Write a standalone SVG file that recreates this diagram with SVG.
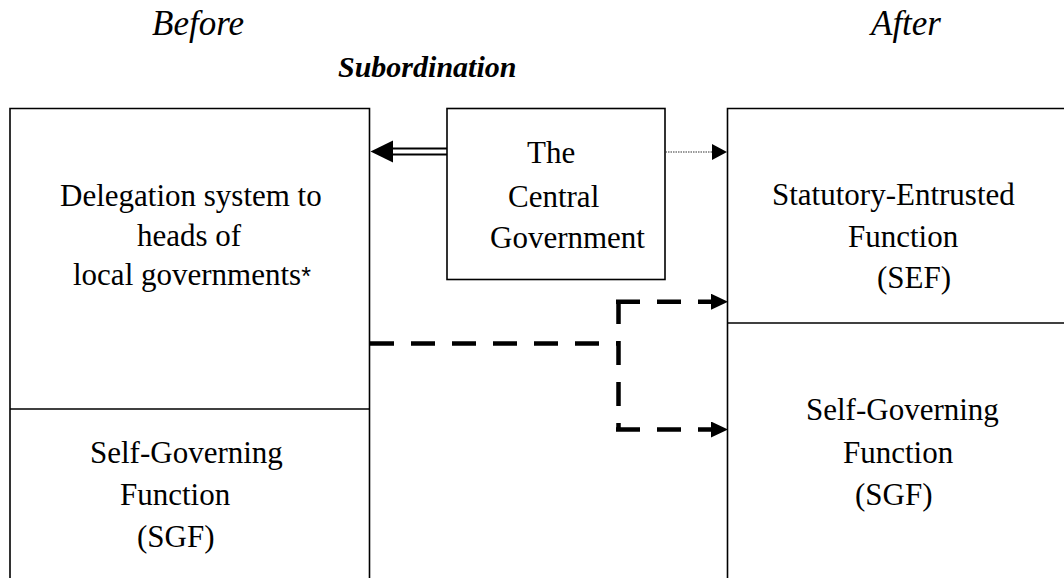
<svg xmlns="http://www.w3.org/2000/svg" width="1064" height="578" viewBox="0 0 1064 578">
<style>
.t{font-family:"Liberation Serif","Times New Roman",serif;font-size:31px;fill:#000}
.h{font-family:"Liberation Serif","Times New Roman",serif;font-size:35px;font-style:italic;fill:#000}
.s{font-family:"Liberation Serif","Times New Roman",serif;font-size:30px;font-style:italic;font-weight:bold;fill:#000}
.box{fill:none;stroke:#000;stroke-width:1.6}
.dash{fill:none;stroke:#000;stroke-width:4.5;stroke-dasharray:24 17}
</style>
<defs>
<marker id="ah" viewBox="0 0 17 16" refX="0" refY="8" markerWidth="17" markerHeight="16" markerUnits="userSpaceOnUse" orient="auto">
<path d="M0,0 L17,8 L0,16 Z" fill="#000"/>
</marker>
<marker id="ahs" viewBox="0 0 15 16" refX="0" refY="8" markerWidth="15" markerHeight="16" markerUnits="userSpaceOnUse" orient="auto">
<path d="M0,0 L15,8 L0,16 Z" fill="#000"/>
</marker>
</defs>
<g id="titles">
<text class="h" x="152" y="35">Before</text>
<text class="h" x="871" y="35">After</text>
<text class="s" x="338" y="77">Subordination</text>
</g>
<g id="before-box">
<path class="box" d="M10,578 V108.5 H369.5 V578"/>
<path class="box" d="M10,409 H369.5"/>
<text class="t" x="60" y="206">Delegation system to</text>
<text class="t" x="137" y="246">heads of</text>
<text class="t" x="73" y="285">local governments<tspan font-size="25" font-family="'Liberation Sans',sans-serif">*</tspan></text>
<text class="t" x="90" y="463">Self-Governing</text>
<text class="t" x="120" y="505">Function</text>
<text class="t" x="137" y="547">(SGF)</text>
</g>
<g id="central-government">
<rect class="box" x="447" y="108.5" width="218" height="171"/>
<text class="t" x="527" y="163">The</text>
<text class="t" x="508" y="207">Central</text>
<text class="t" x="490" y="248">Government</text>
</g>
<g id="after-box">
<path class="box" d="M1064,108.5 H727.5 V578"/>
<path class="box" d="M727.5,323 H1064"/>
<text class="t" x="772" y="205">Statutory-Entrusted</text>
<text class="t" x="848" y="247">Function</text>
<text class="t" x="877" y="288">(SEF)</text>
<text class="t" x="806" y="420">Self-Governing</text>
<text class="t" x="843" y="463">Function</text>
<text class="t" x="855" y="505">(SGF)</text>
</g>
<g id="connectors">
<path d="M447,148.5 H392 M447,154.5 H392" stroke="#000" stroke-width="1.8" fill="none"/>
<path d="M393,140.5 L370.5,151.5 L393,162.5 Z" fill="#000"/>
<path d="M665.5,152 H712" stroke="#333" stroke-width="1.2" stroke-dasharray="1.5 1" fill="none" marker-end="url(#ahs)"/>
<path class="dash" d="M370,343.5 H618"/>
<path class="dash" d="M618.5,300 V430"/>
<path class="dash" d="M616,301.7 H711" marker-end="url(#ah)"/>
<path class="dash" d="M616,429.5 H711" marker-end="url(#ah)"/>
</g>
</svg>
